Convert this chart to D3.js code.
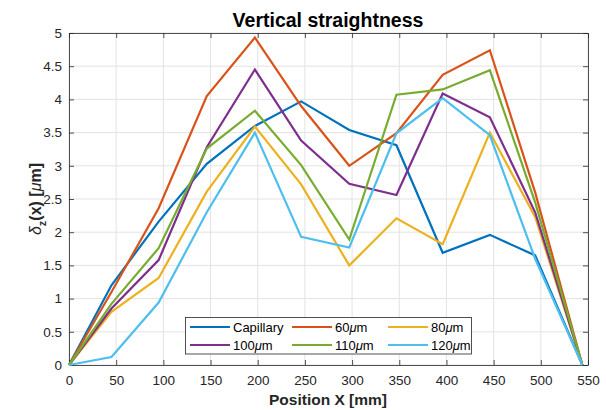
<!DOCTYPE html>
<html><head><meta charset="utf-8">
<script src="https://cdn.jsdelivr.net/npm/d3@7"></script>
<style>body{margin:0;background:#fff;} text{font-family:"Liberation Sans",Arial,sans-serif;}</style>
</head><body><svg id="c" width="606" height="410"></svg>
<script>
const positions = [0, 45, 95, 146, 197, 246, 297, 347, 396, 446, 494, 544];
const capillary = [0, 1.20, 2.16, 3.03, 3.60, 3.97, 3.54, 3.31, 1.69, 1.96, 1.65, 0];
const um60 = [0, 1.10, 2.36, 4.05, 4.93, 3.90, 3.00, 3.49, 4.37, 4.74, 2.60, 0];
const um80 = [0, 0.80, 1.31, 2.61, 3.59, 2.72, 1.50, 2.21, 1.82, 3.50, 2.23, 0];
const um100 = [0, 0.85, 1.58, 3.28, 4.45, 3.38, 2.73, 2.56, 4.09, 3.73, 2.30, 0];
const um110 = [0, 0.92, 1.76, 3.26, 3.83, 3.01, 1.89, 4.07, 4.15, 4.44, 2.45, 0];
const um120 = [0, 0.12, 0.94, 2.30, 3.50, 1.93, 1.77, 3.49, 4.02, 3.46, 1.60, 0];
const seriesNames = ["Capillary", "60", "80", "100", "110", "120"];
const seriesColors = ["#0072BD", "#D95319", "#EDB120", "#7E2F8E", "#77AC30", "#4DBEEE"];
const xTicks = [0,50,100,150,200,250,300,350,400,450,500,550];
const yTicks = [0,0.5,1,1.5,2,2.5,3,3.5,4,4.5,5];

const allSeries = [capillary, um60, um80, um100, um110, um120];
const svg = d3.select("#c");
const L=69, R=588, T=33, B=365;
const x = d3.scaleLinear().domain([0,550]).range([L,R]);
const y = d3.scaleLinear().domain([0,5]).range([B,T]);

// grid
svg.append("g").selectAll("line.gx").data(xTicks).join("line")
  .attr("x1",d=>x(d)).attr("x2",d=>x(d)).attr("y1",T).attr("y2",B)
  .attr("stroke","#e3e3e3").attr("stroke-width",1);
svg.append("g").selectAll("line.gy").data(yTicks).join("line")
  .attr("y1",d=>y(d)).attr("y2",d=>y(d)).attr("x1",L).attr("x2",R)
  .attr("stroke","#e3e3e3").attr("stroke-width",1);

// axes
const ax = svg.append("g").attr("transform",`translate(0,${B})`)
  .call(d3.axisBottom(x).tickValues(xTicks).tickSizeInner(-5).tickSizeOuter(0).tickPadding(10));
const ay = svg.append("g").attr("transform",`translate(${L},0)`)
  .call(d3.axisLeft(y).tickValues(yTicks).tickSizeInner(-5).tickSizeOuter(0).tickPadding(7).tickFormat(d3.format("")));
const axTop = svg.append("g").attr("transform",`translate(0,${T})`)
  .call(d3.axisTop(x).tickValues(xTicks).tickSizeInner(-5).tickSizeOuter(0).tickFormat(""));
const ayR = svg.append("g").attr("transform",`translate(${R},0)`)
  .call(d3.axisRight(y).tickValues(yTicks).tickSizeInner(-5).tickSizeOuter(0).tickFormat(""));
[ax,ay,axTop,ayR].forEach(g=>{
  g.selectAll("path").attr("stroke","#262626").attr("stroke-width",0.8);
  g.selectAll("line").attr("stroke","#262626").attr("stroke-width",0.8);
  g.selectAll("text").attr("fill","#262626").attr("font-size","13.5px").attr("font-family","Liberation Sans, Arial, sans-serif");
});

// lines
const line = d3.line().x((d,i)=>x(positions[i])).y(d=>y(d));
svg.append("g").selectAll("path").data(allSeries).join("path")
  .attr("d",d=>line(d)).attr("fill","none")
  .attr("stroke",(d,i)=>seriesColors[i]).attr("stroke-width",2.2)
  .attr("stroke-linejoin","miter");

// title
svg.append("text").attr("x",328).attr("y",27).attr("text-anchor","middle")
  .attr("font-size","19.5px").attr("font-weight","bold").attr("fill","#000").text("Vertical straightness");
// x label
svg.append("text").attr("x",328).attr("y",405).attr("text-anchor","middle")
  .attr("font-size","15.5px").attr("font-weight","bold").attr("fill","#262626").text("Position X [mm]");
// y label
const yl = svg.append("text").attr("transform",`translate(41,199) rotate(-90)`).attr("text-anchor","middle")
  .attr("font-size","16px").attr("font-weight","bold").attr("fill","#262626");
yl.append("tspan").attr("font-style","italic").attr("font-weight","normal").text("δ");
yl.append("tspan").attr("font-size","11px").attr("dy",5).text("z");
yl.append("tspan").attr("dy",-5).text("(x) [");
yl.append("tspan").attr("font-style","italic").attr("font-weight","normal").text("μ");
yl.append("tspan").text("m]");

// legend
const lg = svg.append("g");
lg.append("rect").attr("x",185.5).attr("y",317.5).attr("width",286).attr("height",36.5)
  .attr("fill","#fff").attr("stroke","#262626").attr("stroke-width",0.8);
const colX = [190, 292, 388];
const rowY = [327, 345];
seriesNames.forEach((n,i)=>{
  const cx = colX[i%3], cy = rowY[Math.floor(i/3)];
  lg.append("line").attr("x1",cx).attr("x2",cx+40).attr("y1",cy).attr("y2",cy)
    .attr("stroke",seriesColors[i]).attr("stroke-width",2.2);
  const t = lg.append("text").attr("x",cx+43).attr("y",cy+4.5).attr("font-size","13px").attr("fill","#000");
  if(i===0){ t.text(n); }
  else { t.append("tspan").text(n); t.append("tspan").attr("font-style","italic").text("μ"); t.append("tspan").text("m"); }
});
</script></body></html>
